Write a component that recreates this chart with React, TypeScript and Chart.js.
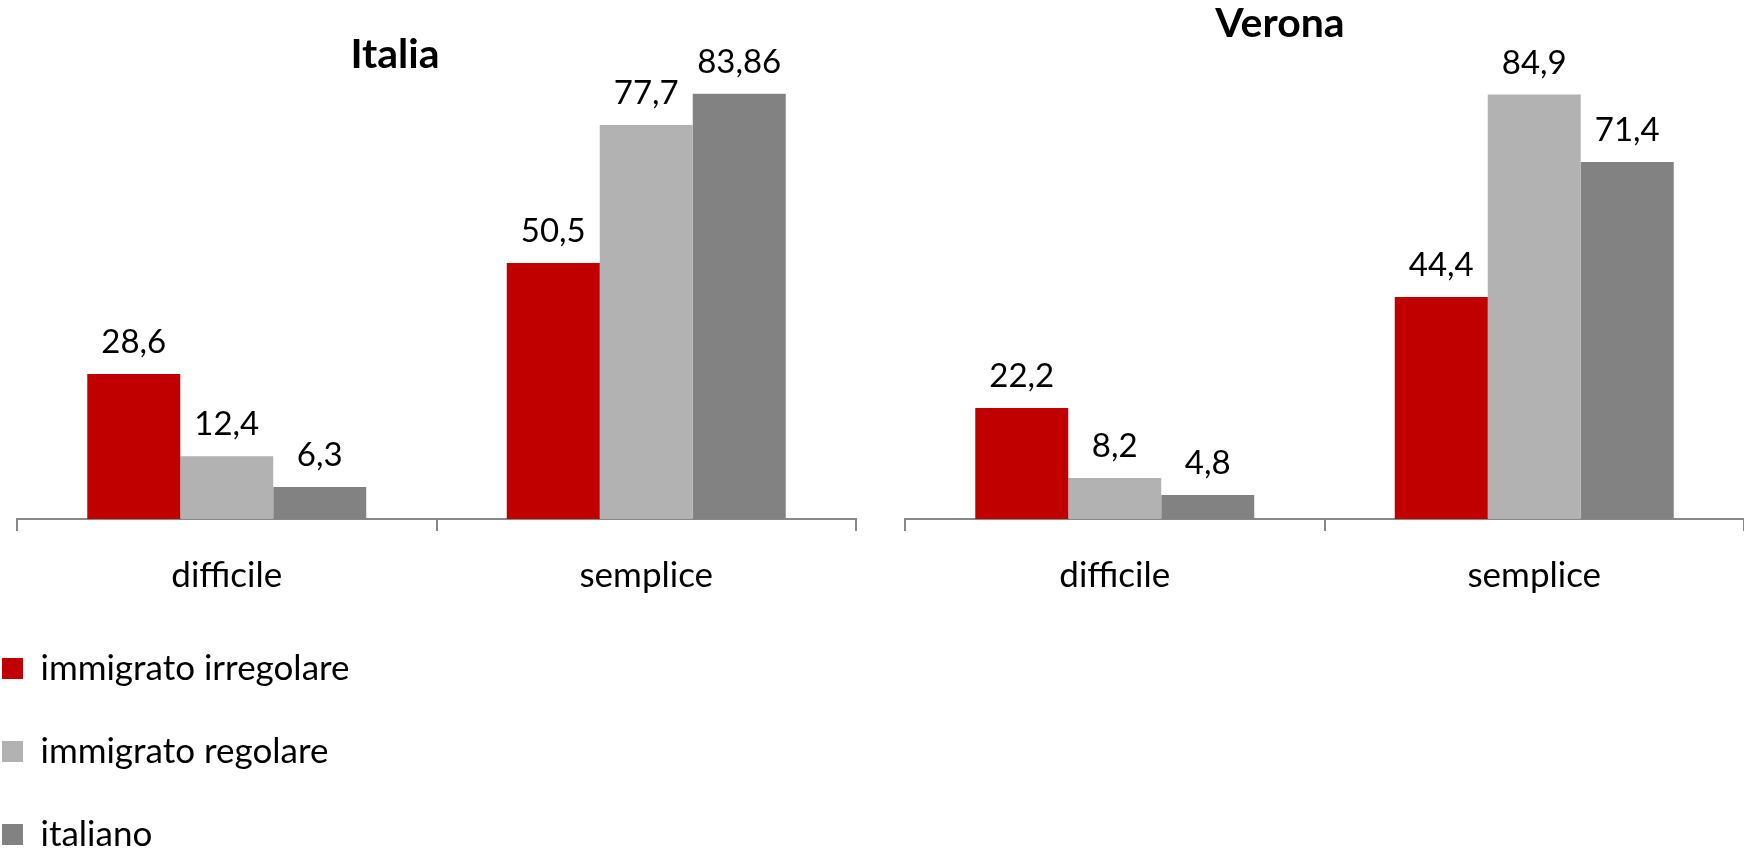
import React, { useEffect, useRef } from 'react';
import { Chart, registerables } from 'chart.js';

Chart.register(...registerables);

const categories = ['difficile', 'semplice'];
const seriesNames = ['immigrato irregolare', 'immigrato regolare', 'italiano'];
const seriesColors = ['#C00000', '#B2B2B2', '#828282'];

const italiaIrregolare = [28.6, 50.5];
const italiaRegolare = [12.4, 77.7];
const italiaItaliano = [6.3, 83.86];

const veronaIrregolare = [22.2, 44.4];
const veronaRegolare = [8.2, 84.9];
const veronaItaliano = [4.8, 71.4];

const panelTitles = ['Italia', 'Verona'];

const FONT = 'Lato, "Open Sans", sans-serif';

const fmt = (v: number) => String(v).replace('.', ',');

const valueLabelPlugin = {
  id: 'valueLabels',
  afterDatasetsDraw(chart: any) {
    const ctx = chart.ctx;
    ctx.save();
    ctx.font = `33px ${FONT}`;
    ctx.fillStyle = '#000';
    ctx.textAlign = 'center';
    ctx.textBaseline = 'alphabetic';
    chart.data.datasets.forEach((ds: any, di: number) => {
      const meta = chart.getDatasetMeta(di);
      meta.data.forEach((el: any, i: number) => {
        ctx.fillText(fmt(ds.data[i]), el.x, el.y - 21);
      });
    });
    ctx.restore();
  },
};

const panelTitlePlugin = {
  id: 'panelTitle',
  afterDraw(chart: any, _args: any, opts: any) {
    if (!opts || !opts.text) return;
    const ctx = chart.ctx;
    ctx.save();
    ctx.font = `bold 41px ${FONT}`;
    ctx.fillStyle = '#000';
    ctx.textAlign = 'center';
    ctx.textBaseline = 'alphabetic';
    ctx.fillText(opts.text, opts.x, opts.y);
    ctx.restore();
  },
};

function makeDatasets(a: number[], b: number[], c: number[]) {
  return [a, b, c].map((d, i) => ({
    label: seriesNames[i],
    data: d,
    backgroundColor: seriesColors[i],
    borderWidth: 0,
    categoryPercentage: 0.665,
    barPercentage: 1.0,
  }));
}

function panelOptions(padLeft: number, padRight: number, padTop: number, title: any) {
  return {
    responsive: false,
    animation: false as const,
    layout: { padding: { left: padLeft, right: padRight, top: padTop, bottom: 0 } },
    plugins: {
      legend: { display: false },
      tooltip: { enabled: false },
      title: { display: false },
      panelTitle: title,
    },
    scales: {
      x: {
        display: true,
        offset: true,
        grid: {
          display: true,
          offset: true,
          drawOnChartArea: false,
          drawTicks: true,
          tickLength: 12,
          color: '#888888',
          lineWidth: 2,
        },
        border: { display: true, color: '#888888', width: 2 },
        ticks: {
          color: '#000',
          padding: 24,
          font: { family: FONT, size: 35 },
          maxRotation: 0,
        },
      },
      y: {
        display: false,
        min: 0,
        max: 100,
      },
    },
  };
}

function Panel(props: { left: number; width: number; height: number; datasets: any[]; options: any }) {
  const ref = useRef<HTMLCanvasElement | null>(null);
  useEffect(() => {
    if (!ref.current) return;
    const chart = new Chart(ref.current, {
      type: 'bar',
      data: { labels: categories, datasets: props.datasets },
      options: props.options,
      plugins: [valueLabelPlugin, panelTitlePlugin],
    } as any);
    return () => chart.destroy();
  }, []);
  return (
    <canvas
      ref={ref}
      width={props.width}
      height={props.height}
      style={{ position: 'absolute', left: props.left, top: 0, width: props.width, height: props.height }}
    />
  );
}

function LegendChart() {
  const ref = useRef<HTMLCanvasElement | null>(null);
  useEffect(() => {
    if (!ref.current) return;
    const chart = new Chart(ref.current, {
      type: 'bar',
      data: {
        labels: [],
        datasets: seriesNames.map((n, i) => ({
          label: n,
          data: [],
          backgroundColor: seriesColors[i],
          borderWidth: 0,
        })),
      },
      options: {
        responsive: false,
        animation: false,
        layout: { padding: 0 },
        plugins: {
          tooltip: { enabled: false },
          legend: {
            display: true,
            position: 'top',
            align: 'start',
            labels: {
              boxWidth: 21,
              boxHeight: 21,
              padding: 48,
              color: '#000',
              font: { family: FONT, size: 35 },
            },
          },
        },
        scales: { x: { display: false }, y: { display: false } },
      },
    } as any);
    return () => chart.destroy();
  }, []);
  return (
    <canvas
      ref={ref}
      width={480}
      height={560}
      style={{ position: 'absolute', left: -46, top: 603, width: 480, height: 560 }}
    />
  );
}

export default function App() {
  return (
    <div
      style={{
        position: 'absolute',
        left: 0,
        top: 0,
        width: 1744,
        height: 849,
        overflow: 'hidden',
        background: '#fff',
      }}
    >
      <Panel
        left={0}
        width={872}
        height={621}
        datasets={makeDatasets(italiaIrregolare, italiaRegolare, italiaItaliano)}
        options={panelOptions(17, 16, 12, { text: panelTitles[0], x: 395, y: 68 })}
      />
      <Panel
        left={880}
        width={864}
        height={621}
        datasets={makeDatasets(veronaIrregolare, veronaRegolare, veronaItaliano)}
        options={panelOptions(25, 0, 19, { text: panelTitles[1], x: 400, y: 37 })}
      />
      <LegendChart />
    </div>
  );
}
